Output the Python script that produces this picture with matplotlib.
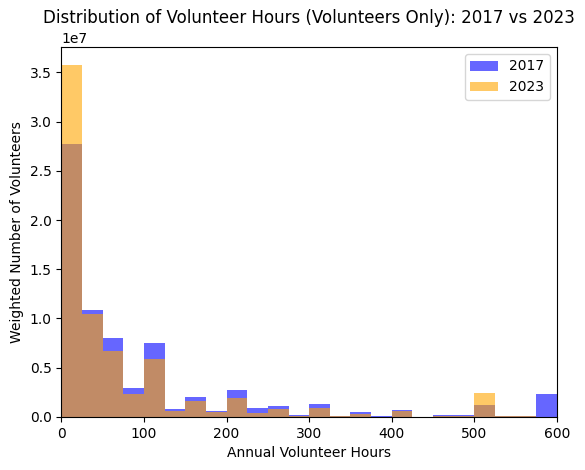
import numpy as np
import matplotlib
matplotlib.use("Agg")
import matplotlib.pyplot as plt

# bins of 25 hours, 0..600
bin_edges = np.arange(0, 601, 25)

# weighted counts per bin
hours_2017 = [2.77e7, 1.085e7, 0.80e7, 0.29e7, 0.749e7, 0.078e7, 0.20e7, 0.061e7,
              0.271e7, 0.088e7, 0.108e7, 0.017e7, 0.129e7, 0.007e7, 0.047e7, 0.005e7,
              0.068e7, 0.003e7, 0.017e7, 0.017e7, 0.119e7, 0.007e7, 0.007e7, 0.23e7]
hours_2023 = [3.58e7, 1.044e7, 0.668e7, 0.23e7, 0.586e7, 0.058e7, 0.16e7, 0.051e7,
              0.19e7, 0.041e7, 0.078e7, 0.010e7, 0.088e7, 0.005e7, 0.027e7, 0.003e7,
              0.061e7, 0.002e7, 0.010e7, 0.012e7, 0.24e7, 0.004e7, 0.004e7, 0.0]

centers = (bin_edges[:-1] + bin_edges[1:]) / 2

fig, ax = plt.subplots(figsize=(5.85, 4.7), dpi=100)
fig.subplots_adjust(left=0.105, right=0.952, bottom=0.113, top=0.9)

ax.hist(centers, bins=bin_edges, weights=hours_2017, alpha=0.6, color="blue", label="2017")
ax.hist(centers, bins=bin_edges, weights=hours_2023, alpha=0.6, color="orange", label="2023")

ax.set_xlim(0, 600)
ax.set_xlabel("Annual Volunteer Hours")
ax.set_ylabel("Weighted Number of Volunteers")
ax.set_title("Distribution of Volunteer Hours (Volunteers Only): 2017 vs 2023")
ax.legend()

fig.savefig("out.png")
